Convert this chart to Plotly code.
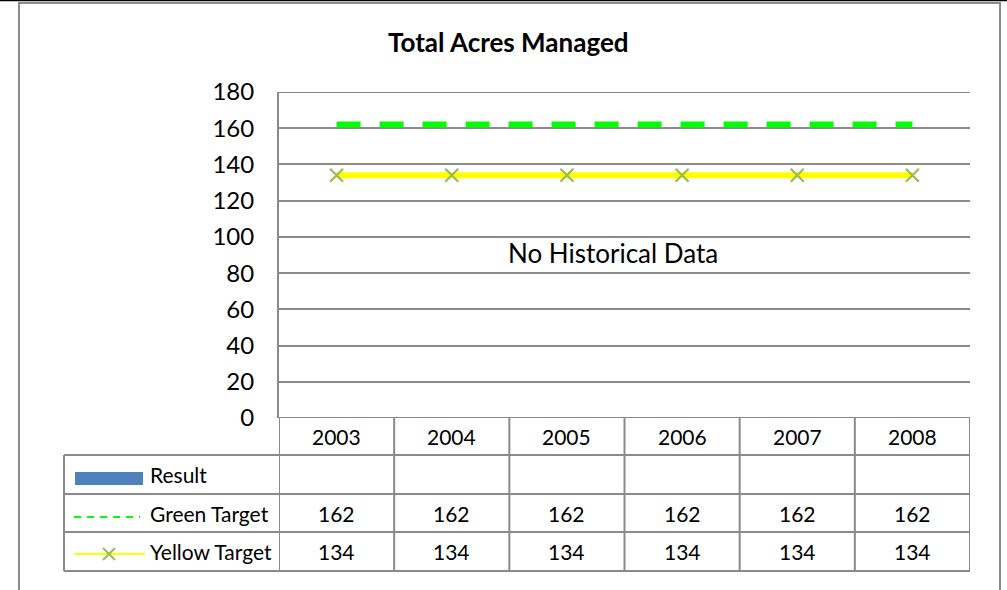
import plotly.graph_objects as go

# ---- data ----
years = ["2003", "2004", "2005", "2006", "2007", "2008"]
result = [None, None, None, None, None, None]
green_target = [162, 162, 162, 162, 162, 162]
yellow_target = [134, 134, 134, 134, 134, 134]
title = "Total Acres Managed"
note = "No Historical Data"
y_ticks = [0, 20, 40, 60, 80, 100, 120, 140, 160, 180]

W, H = 1007, 590
L, R, T, B = 279, 970, 92, 418  # plot area in pixels
FONT = "Lato"
GRID = "#8a8a8a"

def px(x):
    return (x - L) / (R - L)

def py(y):
    return (B - y) / (B - T)

xs = list(range(len(years)))

fig = go.Figure()
fig.add_trace(go.Bar(x=xs, y=result, marker_color="#4F81BD", name="Result", showlegend=False))
fig.add_trace(go.Scatter(x=xs, y=green_target, mode="lines", name="Green Target",
                         line=dict(color="#00FF00", width=6, dash="24px,19px"), showlegend=False))
fig.add_trace(go.Scatter(x=xs, y=yellow_target, mode="lines+markers", name="Yellow Target",
                         line=dict(color="#FFFF00", width=6),
                         marker=dict(symbol="x-thin", size=13, line=dict(color="#9BBB59", width=2.2)),
                         showlegend=False))

shapes = []
ann = []

# outer chart border and top black line
shapes.append(dict(type="rect", xref="paper", yref="paper", x0=px(19), x1=px(1000), y0=py(600), y1=py(3),
                   line=dict(color="#8c8c8c", width=2), layer="below"))
shapes.append(dict(type="line", xref="paper", yref="paper", x0=px(0), x1=px(1007), y0=py(0.5), y1=py(0.5),
                   line=dict(color="#000000", width=1.5)))

tl = dict(color=GRID, width=2)
# gridline at the top of the value axis (edge gridlines are not drawn by plotly)
shapes.append(dict(type="line", xref="paper", yref="y", x0=0, x1=1, y0=max(y_ticks), y1=max(y_ticks), line=tl))
shapes.append(dict(type="line", xref="paper", yref="y", x0=0, x1=1, y0=min(y_ticks), y1=min(y_ticks), line=tl))

hdr_bot, r1_bot, r2_bot, r3_bot = 455, 494, 532, 571
tab_left = 64
# horizontal table lines
for yy in (hdr_bot, r1_bot, r2_bot, r3_bot):
    shapes.append(dict(type="line", xref="paper", yref="paper", x0=px(tab_left), x1=1, y0=py(yy), y1=py(yy), line=tl))
# vertical table lines
shapes.append(dict(type="line", xref="paper", yref="paper", x0=px(tab_left), x1=px(tab_left), y0=py(hdr_bot), y1=py(r3_bot), line=tl))
for i in range(len(years) + 1):
    shapes.append(dict(type="line", xref="x", yref="paper", x0=i - 0.5, x1=i - 0.5, y0=0, y1=py(r3_bot), line=tl))

cell_font = dict(family=FONT, size=21, color="#000000")

def cell(x, y, text, xref="x", xanchor="center", font=cell_font):
    ann.append(dict(x=x, y=y, xref=xref, yref="paper", text=text, showarrow=False,
                    xanchor=xanchor, yanchor="middle", font=font))

for i, yr in enumerate(years):
    cell(i, py((B + hdr_bot) / 2), yr)
    if result[i] is not None:
        cell(i, py((hdr_bot + r1_bot) / 2), str(result[i]))
    cell(i, py((r1_bot + r2_bot) / 2), str(green_target[i]))
    cell(i, py((r2_bot + r3_bot) / 2), str(yellow_target[i]))

# legend keys inside table
shapes.append(dict(type="rect", xref="paper", yref="paper", x0=px(75), x1=px(143), y0=py(485), y1=py(472),
                   fillcolor="#4F81BD", line=dict(width=0)))
shapes.append(dict(type="line", xref="paper", yref="paper", x0=px(74), x1=px(140), y0=py(517), y1=py(517),
                   line=dict(color="#00FF00", width=2, dash="7px,6px")))
shapes.append(dict(type="line", xref="paper", yref="paper", x0=px(74), x1=px(145), y0=py(554), y1=py(554),
                   line=dict(color="#FFFF00", width=2)))
shapes.append(dict(type="line", xref="paper", yref="paper", x0=px(103), x1=px(115), y0=py(548), y1=py(560),
                   line=dict(color="#9BBB59", width=2)))
shapes.append(dict(type="line", xref="paper", yref="paper", x0=px(103), x1=px(115), y0=py(560), y1=py(548),
                   line=dict(color="#9BBB59", width=2)))

leg_font = dict(family=FONT, size=21, color="#000000")
for label, yc in (("Result", (hdr_bot + r1_bot) / 2), ("Green Target", (r1_bot + r2_bot) / 2),
                  ("Yellow Target", (r2_bot + r3_bot) / 2)):
    cell(px(148), py(yc), label, xref="paper", xanchor="left", font=leg_font)

# title and note
cell(px(508), py(42), "<b>" + title + "</b>", xref="paper",
     font=dict(family=FONT, size=26, color="#000000"))
cell(px(613), py(253), note, xref="paper",
     font=dict(family=FONT, size=26, color="#000000"))

fig.update_layout(
    width=W, height=H,
    margin=dict(l=L, r=W - R, t=T, b=H - B, pad=0),
    paper_bgcolor="white", plot_bgcolor="white",
    showlegend=False,
    shapes=shapes, annotations=ann,
    xaxis=dict(range=[-0.5, len(years) - 0.5], showticklabels=False, showgrid=False, zeroline=False,
               showline=False, ticks=""),
    yaxis=dict(range=[0, 180], tickvals=y_ticks, showgrid=True, gridcolor=GRID, gridwidth=2,
               zeroline=False, showline=True, linecolor=GRID, linewidth=2,
               ticks="", ticklabelstandoff=18,
               tickfont=dict(family=FONT, size=24, color="#000000")),
)

fig.write_html("out.html", config={"displayModeBar": False},
               post_script="document.body.style.margin='0';document.body.style.overflow='hidden';")
